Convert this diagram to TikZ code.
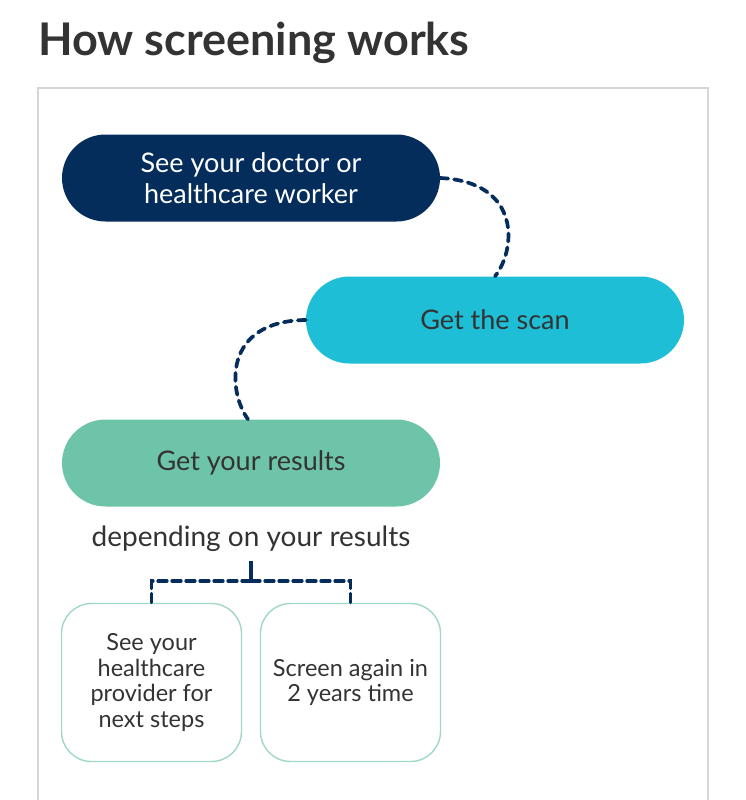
\documentclass[tikz,border=0pt]{standalone}
\usepackage{fontspec}
\setmainfont{Lato}
\usetikzlibrary{positioning}
\definecolor{navy}{RGB}{4,45,92}
\definecolor{scancyan}{RGB}{29,190,214}
\definecolor{resgreen}{RGB}{110,196,168}
\definecolor{boxline}{RGB}{160,216,198}
\definecolor{txtgray}{RGB}{51,51,51}
\definecolor{framegray}{RGB}{214,214,214}

\tikzset{
  pill/.style={minimum width=378pt,minimum height=87pt,rounded corners=43.5pt,
    inner sep=0pt,align=center,font=\fontsize{27}{31}\selectfont},
  optbox/.style={draw=boxline,line width=1.4pt,minimum width=180pt,minimum height=158pt,
    rounded corners=30pt,inner sep=0pt,align=center,text=txtgray,
    font=\fontsize{23.5}{25.5}\selectfont},
  link/.style={navy,line width=3.7pt,dash pattern=on 8pt off 6pt,line cap=round}
}

\begin{document}
\begin{tikzpicture}[x=1pt,y=-1pt]
\useasboundingbox (0,0) rectangle (746,800);
\fill[white] (0,0) rectangle (746,800);

% title and frame
\node[anchor=base west,inner sep=0pt,text=txtgray,font=\fontsize{45}{50}\selectfont\bfseries]
  (title) at (38,56) {How screening works};
\draw[framegray,line width=1.5pt] (38,830) -- (38,88) -- (708,88) -- (708,830);

% steps
\node[pill,fill=navy,text=white] (doctor) at (251,178) {See your doctor or\\healthcare worker};
\node[pill,fill=scancyan,text=txtgray] (scan) at (495,320) {Get the scan};
\node[pill,fill=resgreen,text=txtgray] (results) at (251,463) {Get your results};

\draw[link] (doctor.east) .. controls (522,182) and (516,250) .. (scan.north);
\draw[link] (scan.west) .. controls (222,321) and (228,392) .. ([xshift=-3pt]results.north);

% outcomes
\node[text=txtgray,font=\fontsize{28}{32}\selectfont] (depends) at (251,539) {depending on your results};
\node[optbox] (provider) at (151.5,682.5) {See your\\healthcare\\provider for\\next steps};
\node[optbox] (again) at (350.5,682.5) {Screen again in\\2 years time};

\coordinate (split) at (251,581);
\draw[navy,line width=3.3pt] (251,561) -- (split);
\draw[link,line width=3.3pt,dash pattern=on 9pt off 5pt] (split) -| (provider.north);
\draw[link,line width=3.3pt,dash pattern=on 9pt off 5pt] (split) -| (again.north);

\end{tikzpicture}
\end{document}
